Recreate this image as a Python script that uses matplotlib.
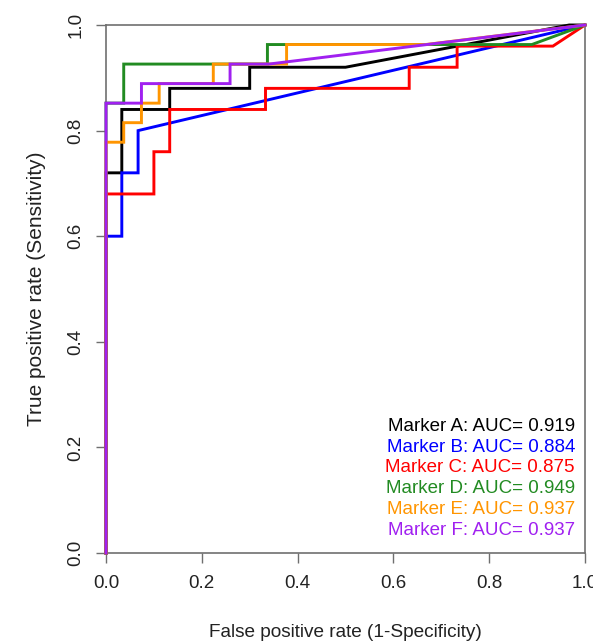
import matplotlib
matplotlib.use("Agg")
import matplotlib.pyplot as plt

plt.rcParams['font.family'] = ['Liberation Sans', 'DejaVu Sans']

# ---- data ----
fpr_A = [0, 0, 0.033, 0.033, 0.133, 0.133, 0.300, 0.300, 0.500, 0.967, 1.0]
tpr_A = [0, 0.72, 0.72, 0.84, 0.84, 0.88, 0.88, 0.92, 0.92, 1.0, 1.0]

fpr_B = [0, 0, 0.033, 0.033, 0.067, 0.067, 1.0]
tpr_B = [0, 0.60, 0.60, 0.72, 0.72, 0.80, 1.0]

fpr_C = [0, 0, 0.100, 0.100, 0.133, 0.133, 0.333, 0.333, 0.633, 0.633, 0.733, 0.733, 0.933, 1.0]
tpr_C = [0, 0.68, 0.68, 0.76, 0.76, 0.84, 0.84, 0.88, 0.88, 0.92, 0.92, 0.96, 0.96, 1.0]

fpr_D = [0, 0, 0.037, 0.037, 0.337, 0.337, 0.889, 1.0]
tpr_D = [0, 0.852, 0.852, 0.926, 0.926, 0.963, 0.963, 1.0]

fpr_E = [0, 0, 0.037, 0.037, 0.074, 0.074, 0.111, 0.111, 0.224, 0.224, 0.377, 0.377, 0.667, 1.0]
tpr_E = [0, 0.778, 0.778, 0.815, 0.815, 0.852, 0.852, 0.889, 0.889, 0.926, 0.926, 0.963, 0.963, 1.0]

fpr_F = [0, 0, 0.074, 0.074, 0.259, 0.259, 0.340, 1.0]
tpr_F = [0, 0.852, 0.852, 0.889, 0.889, 0.926, 0.926, 1.0]

markers = ["Marker A", "Marker B", "Marker C", "Marker D", "Marker E", "Marker F"]
auc_values = [0.919, 0.884, 0.875, 0.949, 0.937, 0.937]
colors = ["#000000", "#0000FF", "#FF0000", "#228B22", "#FF9500", "#A020F0"]

tick_values = [0.0, 0.2, 0.4, 0.6, 0.8, 1.0]
tick_labels = ["0.0", "0.2", "0.4", "0.6", "0.8", "1.0"]

curves = [(fpr_A, tpr_A), (fpr_B, tpr_B), (fpr_C, tpr_C),
          (fpr_D, tpr_D), (fpr_E, tpr_E), (fpr_F, tpr_F)]

# ---- figure ----
W, H = 593, 642
fig = plt.figure(figsize=(W / 100, H / 100), dpi=100)
left, right, bottom, top = 106, 585, 553, 25
ax = fig.add_axes([left / W, 1 - bottom / H, (right - left) / W, (bottom - top) / H])

for (fx, ty), c in zip(curves, colors):
    ax.plot(fx, ty, color=c, lw=2.1, solid_joinstyle='miter', clip_on=False, zorder=3)

ax.set_xlim(0, 1)
ax.set_ylim(0, 1)

spine_col = '#6f6f6f'
for s in ax.spines.values():
    s.set_color(spine_col)
    s.set_linewidth(1.2)

ax.set_xticks(tick_values)
ax.set_xticklabels(tick_labels)
ax.set_yticks(tick_values)
ax.set_yticklabels(tick_labels, rotation=90, va='center')
ax.tick_params(axis='both', direction='out', length=7.5, width=1.0, color=spine_col,
               labelsize=13.5, labelcolor='#222222', pad=8)

ax.set_xlabel("False positive rate (1-Specificity)", fontsize=13.7, color='#222222', labelpad=23.5)
ax.set_ylabel("True positive rate (Sensitivity)", fontsize=15, color='#222222', labelpad=15.5)

# legend-style text block, right-aligned
y0 = 0.240
dy = 0.0394
for i, (m, a, c) in enumerate(zip(markers, auc_values, colors)):
    ax.text(0.979, y0 - i * dy, f"{m}: AUC= {a:.3f}", color=c, fontsize=13.5,
            ha='right', va='center', transform=ax.transAxes)

fig.savefig("out.png", dpi=100)
